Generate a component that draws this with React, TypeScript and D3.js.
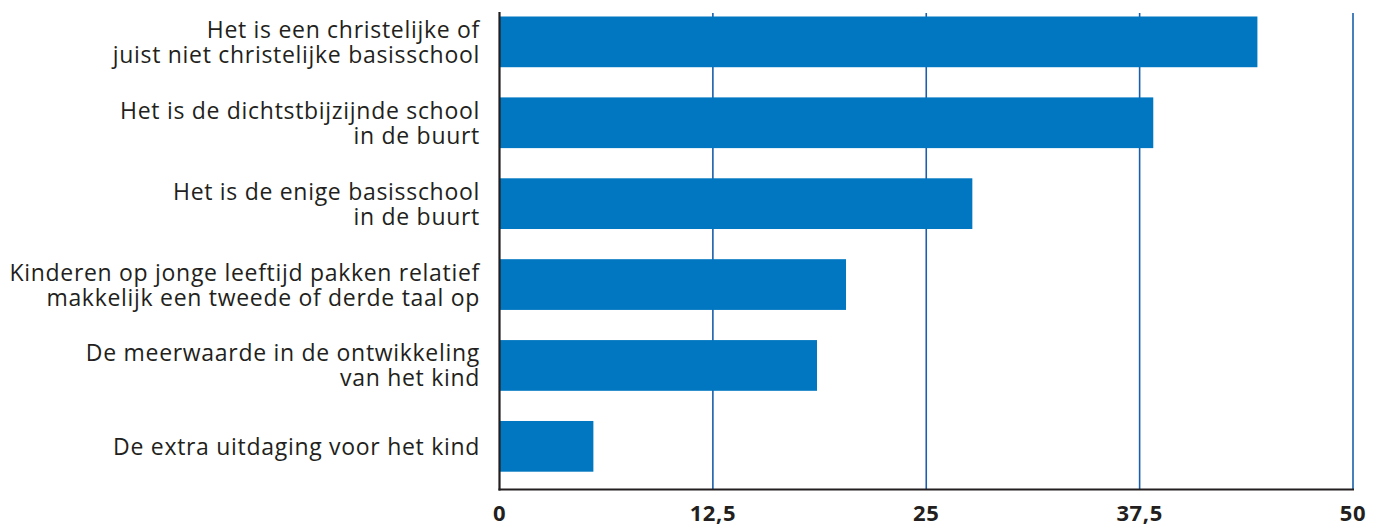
import React from "react";
import * as d3 from "d3";

const categories: string[][] = [
  ["Het is een christelijke of", "juist niet christelijke basisschool"],
  ["Het is de dichtstbijzijnde school", "in de buurt"],
  ["Het is de enige basisschool", "in de buurt"],
  ["Kinderen op jonge leeftijd pakken relatief", "makkelijk een tweede of derde taal op"],
  ["De meerwaarde in de ontwikkeling", "van het kind"],
  ["De extra uitdaging voor het kind"],
];
const values: number[] = [44.4, 38.3, 27.7, 20.3, 18.6, 5.5];
const ticks: number[] = [0, 12.5, 25, 37.5, 50];
const tickLabels: string[] = ["0", "12,5", "25", "37,5", "50"];

const W = 1389;
const H = 527;
const X0 = 499.5;
const X1 = 1353;
const AXIS_Y = 489.5;
const TOP = 12;

export default function App() {
  const x = d3.scaleLinear().domain([0, 50]).range([X0, X1]);
  const ids = categories.map((_, i) => String(i));
  const y = d3
    .scaleBand<string>()
    .domain(ids)
    .range([-1.3, AXIS_Y])
    .paddingInner(0.373)
    .paddingOuter(0.22);
  const font = "'Open Sans', sans-serif";
  const lineH = 25;
  return (
    <svg
      width={W}
      height={H}
      style={{ position: "absolute", left: 0, top: 0, background: "#fff" }}
    >
      {ticks.slice(1).map((t) => (
        <line
          key={"g" + t}
          x1={x(t)}
          x2={x(t)}
          y1={TOP + 1}
          y2={AXIS_Y}
          stroke="#1a5fad"
          strokeWidth={1.6}
        />
      ))}
      {values.map((v, i) => (
        <rect
          key={"b" + i}
          x={x(0)}
          y={y(String(i))!}
          width={x(v) - x(0)}
          height={y.bandwidth()}
          fill="#0077c0"
        />
      ))}
      <line x1={X0} x2={X0} y1={TOP} y2={AXIS_Y + 1} stroke="#231f20" strokeWidth={2.2} />
      <line x1={X0 - 1} x2={X1 + 1} y1={AXIS_Y} y2={AXIS_Y} stroke="#231f20" strokeWidth={2.2} />
      {categories.map((lines, i) => {
        const c = y(String(i))! + y.bandwidth() / 2;
        const base = c + 8.5 - ((lines.length - 1) * lineH) / 2;
        return (
          <text
            key={"l" + i}
            textAnchor="end"
            fontFamily={font}
            fontSize={23}
            letterSpacing={0.7}
            fill="#231f20"
          >
            {lines.map((ln, j) => (
              <tspan key={j} x={480} y={base + j * lineH}>
                {ln}
              </tspan>
            ))}
          </text>
        );
      })}
      {ticks.map((t, i) => (
        <text
          key={"t" + t}
          x={x(t)}
          y={521}
          textAnchor="middle"
          fontFamily={font}
          fontWeight="bold"
          fontSize={22}
          letterSpacing={0.6}
          fill="#231f20"
        >
          {tickLabels[i]}
        </text>
      ))}
    </svg>
  );
}
